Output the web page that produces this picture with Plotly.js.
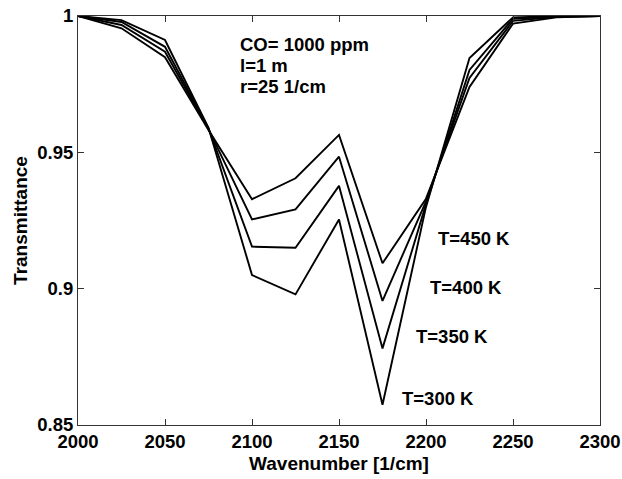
<!DOCTYPE html>
<html>
<head>
<meta charset="utf-8">
<script src="https://cdn.plot.ly/plotly-3.0.1.min.js"></script>
<style>html,body{margin:0;padding:0;background:#fff;}#chart{width:622px;height:479px;}</style>
</head>
<body>
<div id="chart"></div>
<script>
// Wavenumber grid [1/cm]
const wavenumber = [2000, 2025, 2050, 2075, 2100, 2125, 2150, 2175, 2200, 2225, 2250, 2275, 2300];
// Transmittance for each temperature
const trans300 = [1.0, 0.9985, 0.9912, 0.9590, 0.9050, 0.8979, 0.9254, 0.8574, 0.9300, 0.9846, 0.9995, 0.9999, 1.0];
const trans350 = [1.0, 0.9978, 0.9887, 0.9588, 0.9154, 0.9150, 0.9377, 0.8781, 0.9310, 0.9802, 0.9990, 0.9998, 1.0];
const trans400 = [1.0, 0.9967, 0.9869, 0.9585, 0.9254, 0.9291, 0.9484, 0.8955, 0.9320, 0.9773, 0.9982, 0.9997, 1.0];
const trans450 = [1.0, 0.9955, 0.9849, 0.9582, 0.9328, 0.9405, 0.9564, 0.9093, 0.9330, 0.9740, 0.9972, 0.9995, 1.0];

const seriesNames = ["T=300 K", "T=350 K", "T=400 K", "T=450 K"];
const seriesData = [trans300, trans350, trans400, trans450];
// Label anchor positions (data coords)
const labelX = [2207, 2215, 2223, 2227.6];
const labelY = [0.8596, 0.8824, 0.9005, 0.9185];

const xTicks = [2000, 2050, 2100, 2150, 2200, 2250, 2300];
const yTicks = [0.85, 0.9, 0.95, 1];
const yTickText = ["0.85", "0.9", "0.95", "1"];

const infoLines = ["CO= 1000 ppm", "l=1 m", "r=25 1/cm"];
const infoY = [0.9894, 0.9817, 0.9740];

const FONT = {family: "Liberation Sans, Arial, sans-serif", size: 18.5, color: "#000", weight: "bold"};

const traces = seriesData.map((ys, i) => ({
  x: wavenumber, y: ys, type: "scatter", mode: "lines",
  name: seriesNames[i],
  line: {color: "#000", width: 1.9},
  hoverinfo: "skip"
}));

const annotations = [];
seriesNames.forEach((n, i) => annotations.push({
  x: labelX[i], y: labelY[i], xref: "x", yref: "y", text: n, showarrow: false,
  xanchor: "center", yanchor: "middle", font: FONT
}));
infoLines.forEach((t, i) => annotations.push({
  x: 2092, y: infoY[i], xref: "x", yref: "y", text: t, showarrow: false,
  xanchor: "left", yanchor: "middle", font: FONT
}));

const axisCommon = {
  showgrid: false, zeroline: false, showline: true, linecolor: "#333", linewidth: 1,
  mirror: "ticks", ticks: "inside", ticklen: 6, tickcolor: "#333", tickwidth: 1,
  tickfont: FONT
};

const layout = {
  width: 622, height: 479,
  margin: {l: 78, r: 22, t: 16, b: 54},
  paper_bgcolor: "#fff", plot_bgcolor: "#fff",
  showlegend: false,
  font: FONT,
  xaxis: Object.assign({}, axisCommon, {
    range: [2000, 2300], tickmode: "array", tickvals: xTicks,
    title: {text: "Wavenumber [1/cm]", font: Object.assign({}, FONT, {size: 19}), standoff: 5}
  }),
  yaxis: Object.assign({}, axisCommon, {
    range: [0.85, 1], tickmode: "array", tickvals: yTicks, ticktext: yTickText,
    title: {text: "Transmittance", font: Object.assign({}, FONT, {size: 19}), standoff: 4}
  }),
  annotations: annotations
};

Plotly.newPlot("chart", traces, layout, {staticPlot: true, displayModeBar: false});
</script>
</body>
</html>
